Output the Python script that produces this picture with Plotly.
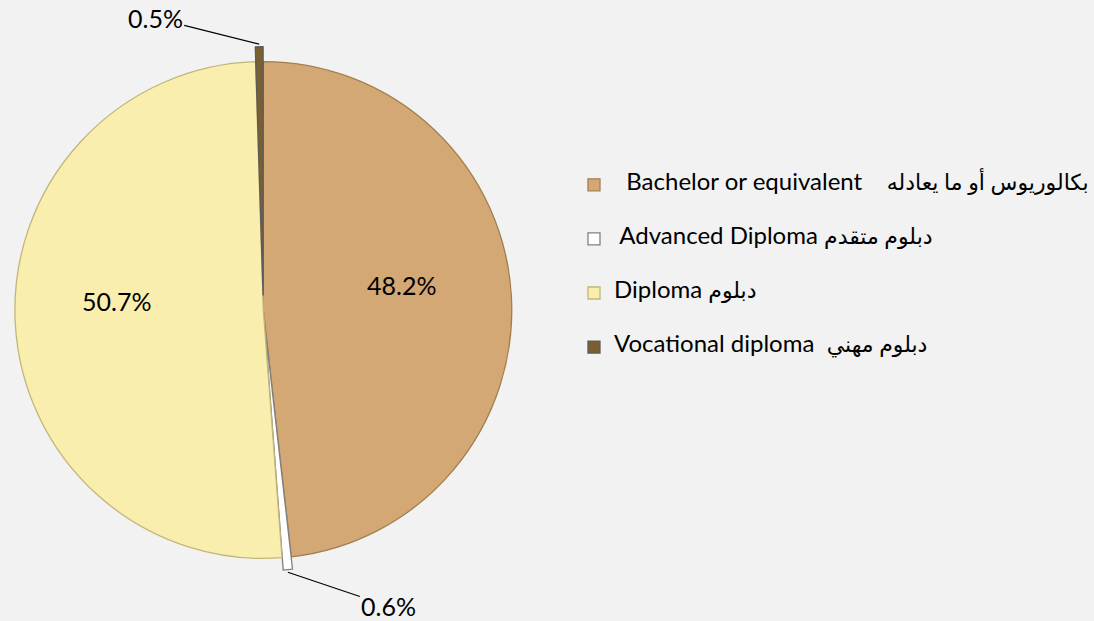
import math
import plotly.graph_objects as go

# ---- data ----
labels_en = ["Bachelor or equivalent", "Advanced Diploma", "Diploma", "Vocational diploma"]
labels_ar = ["بكالوريوس أو ما يعادله", "دبلوم متقدم", "دبلوم", "دبلوم مهني"]
values = [48.2, 0.6, 50.7, 0.5]
colors = ["#D4A874", "#FFFFFF", "#F9EEAE", "#7B5F30"]
edge_colors = ["#A08050", "#808080", "#C2B57A", "#5A5A5A"]
pulls = [0, 0.05, 0, 0.06]

W, H = 1094, 621
FONT = "Lato, 'Open Sans', 'DejaVu Sans', sans-serif"

def legend_label(en, ar, lead, gap):
    return ("<br><span style='font-size:24px'>" + lead + en + gap +
            "<span style='font-size:22px'>" + ar + "</span></span><br> ")

legend_text = [
    legend_label(labels_en[0], labels_ar[0], "  ", "    "),
    legend_label(labels_en[1], labels_ar[1], " ", " "),
    legend_label(labels_en[2], labels_ar[2], "", " "),
    legend_label(labels_en[3], labels_ar[3], "", "  "),
]

small = [v < 2 for v in values]

dom_x = [0, 0.4863]
dom_y = [0.0725, 0.9291]

fig = go.Figure(go.Pie(
    labels=legend_text,
    values=values,
    sort=False,
    direction="clockwise",
    rotation=0,
    pull=pulls,
    marker=dict(colors=colors, line=dict(color=edge_colors, width=1.3)),
    textinfo="none",
    domain=dict(x=dom_x, y=dom_y),
    hoverinfo="label+percent",
))

# geometry of the pie as plotly lays it out (for label anchoring)
box_w = W * (dom_x[1] - dom_x[0]) / 2
box_h = H * (dom_y[1] - dom_y[0]) / 2
r = min(box_w, box_h) / (1 + max(pulls))
cx = W * (dom_x[0] + dom_x[1]) / 2
cy = H * (1 - (dom_y[0] + dom_y[1]) / 2)
total = sum(values)

LABEL_FONT = dict(family=FONT, size=25, color="#000000")
offsets = {1: (101, 34), 3: (-104, -26)}
cum = 0
for i, v in enumerate(values):
    mid = (cum + v / 2) / total * 2 * math.pi
    cum += v
    if small[i]:
        rr = r * (1 + pulls[i])
        tx = cx + rr * math.sin(mid)
        ty = cy - rr * math.cos(mid)
        ax, ay = offsets[i]
        fig.add_annotation(
            x=tx / W, y=1 - ty / H, xref="paper", yref="paper",
            text=f"{v:.1f}%", showarrow=True, arrowhead=0, arrowwidth=1.2,
            arrowcolor="#000000", ax=ax, ay=ay, font=LABEL_FONT,
        )
    else:
        rr = r * 0.575
        tx = cx + rr * math.sin(mid)
        ty = cy - rr * math.cos(mid)
        fig.add_annotation(
            x=tx / W, y=1 - ty / H, xref="paper", yref="paper",
            xanchor="center", yanchor="middle",
            text=f"{v:.1f}%", showarrow=False, font=LABEL_FONT,
            xshift=-4, yshift=17,
        )

fig.update_layout(
    width=W, height=H,
    margin=dict(l=0, r=0, t=0, b=0),
    paper_bgcolor="#F2F2F2",
    plot_bgcolor="#F2F2F2",
    font=dict(family=FONT, color="#000000"),
    showlegend=True,
    legend=dict(
        x=0.530, y=0.754, xanchor="left", yanchor="top",
        font=dict(family=FONT, size=13.1, color="#000000"),
        bgcolor="rgba(0,0,0,0)",
        valign="middle",
    ),
)

fig.write_html(
    "out.html",
    config={"displayModeBar": False},
    post_script="document.body.style.margin='0';document.body.style.background='#F2F2F2';",
)
